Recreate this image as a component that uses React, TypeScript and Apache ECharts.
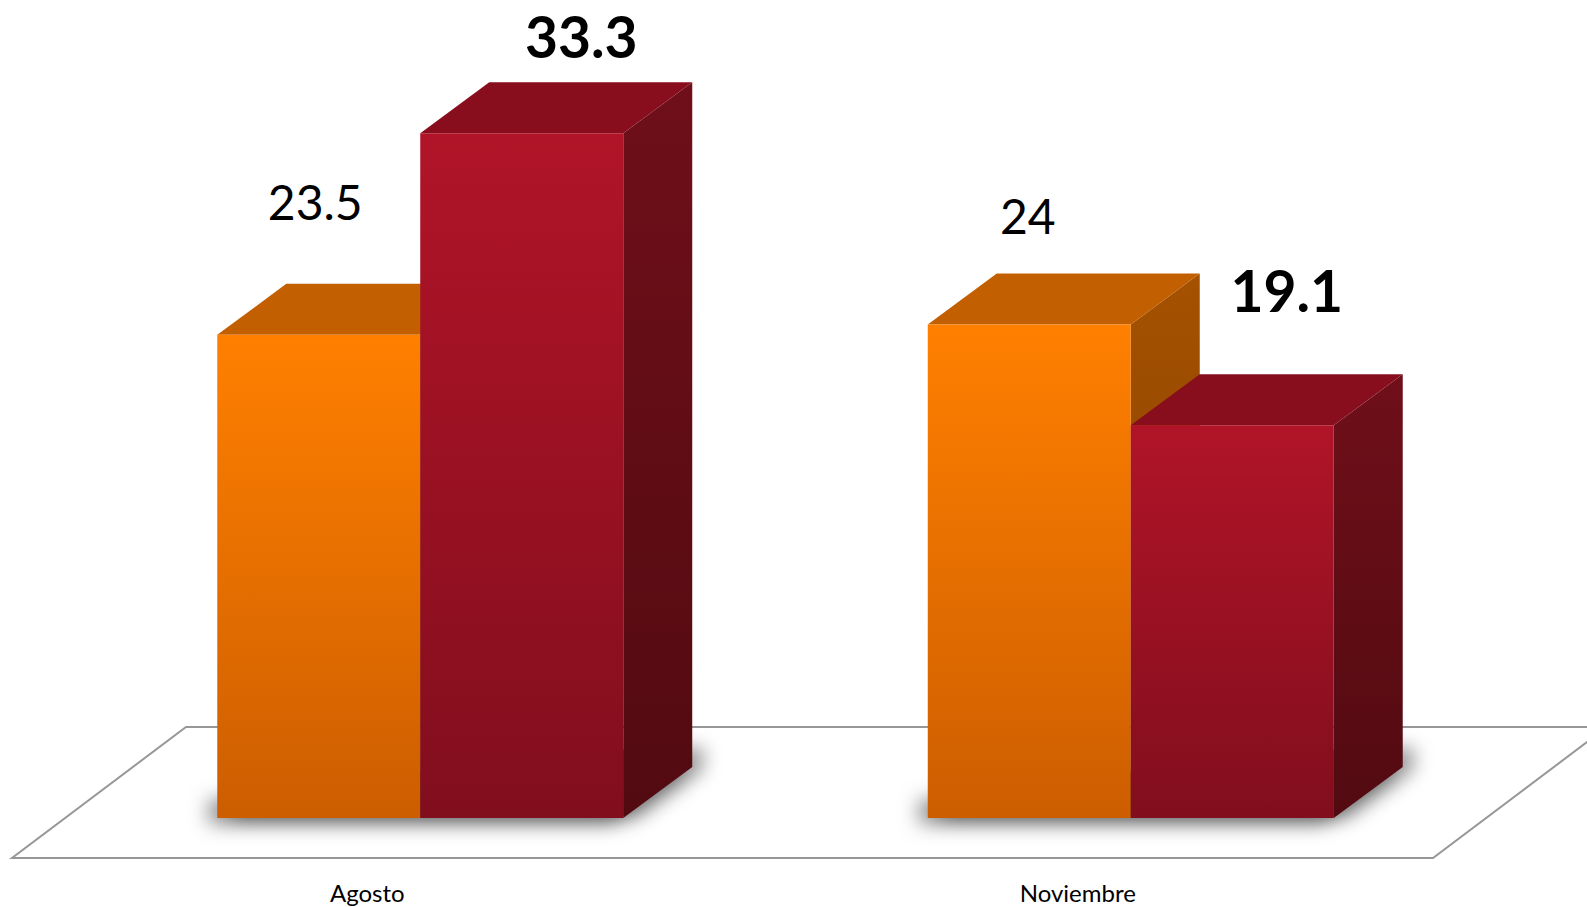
import React, { useEffect, useRef } from "react";
import * as echarts from "echarts";

const categories = ["Agosto", "Noviembre"];
const seriesOrange = [23.5, 24];
const seriesRed = [33.3, 19.1];

// per-label nudges (px) relative to the top-front centre of each bar
const labelNudgeOrange = [
  [-3.5, -133],
  [-1.5, -109],
];
const labelNudgeRed = [
  [59.5, -97],
  [54.5, -135],
];

const FONT = "Lato, 'Open Sans', 'Noto Sans', sans-serif";
const SHIFT_X = 53; // bars sit behind the floor's front edge
const SHIFT_Y = -40;
const DEPTH_X = 69; // bar depth projection
const DEPTH_Y = -51;
const FLOOR_DX = 174;
const FLOOR_DY = -131;

function grad(top: string, bottom: string) {
  return new echarts.graphic.LinearGradient(0, 0, 0, 1, [
    { offset: 0, color: top },
    { offset: 1, color: bottom },
  ]);
}

function barRenderer(
  which: "orange" | "red",
  nudges: number[][],
  colors: { front: [string, string]; top: string; side: [string, string] },
  label: { size: number; weight: string }
) {
  return (params: any, api: any) => {
    const cat = api.value(0);
    const v = api.value(1);
    const p0 = api.coord([cat, 0]);
    const p1 = api.coord([cat, v]);
    const band = api.size([1, 0])[0];
    const bw = band * 0.2857;
    const cx = p0[0] + SHIFT_X;
    const x0 = which === "orange" ? cx - bw : cx;
    const x1 = which === "orange" ? cx : cx + bw;
    const yb = p0[1] + SHIFT_Y;
    const yt = p1[1] + SHIFT_Y;
    const nd = nudges[params.dataIndex] || [0, 0];
    return {
      type: "group",
      children: [
        {
          type: "polygon",
          shape: {
            points: [
              [x1, yt],
              [x1 + DEPTH_X, yt + DEPTH_Y],
              [x1 + DEPTH_X, yb + DEPTH_Y],
              [x1, yb],
            ],
          },
          style: { fill: grad(colors.side[0], colors.side[1]) },
        },
        {
          type: "polygon",
          shape: {
            points: [
              [x0, yt],
              [x1, yt],
              [x1 + DEPTH_X, yt + DEPTH_Y],
              [x0 + DEPTH_X, yt + DEPTH_Y],
            ],
          },
          style: { fill: colors.top },
        },
        {
          type: "rect",
          shape: { x: x0, y: yt, width: x1 - x0, height: yb - yt },
          style: { fill: grad(colors.front[0], colors.front[1]) },
        },
        {
          type: "text",
          z2: 10,
          x: (x0 + x1) / 2 + nd[0],
          y: yt + nd[1],
          style: {
            text: String(v),
            fill: "#000",
            fontFamily: FONT,
            fontSize: label.size,
            fontWeight: label.weight,
            align: "center",
            verticalAlign: "middle",
          },
        },
      ],
    };
  };
}

export default function App() {
  const ref = useRef<HTMLDivElement>(null);
  useEffect(() => {
    if (!ref.current) return;
    const chart = echarts.init(ref.current, undefined, { renderer: "svg" });
    const option: any = {
      animation: false,
      backgroundColor: "#ffffff",
      grid: { left: 12, right: 154, top: 35.6, bottom: 49 },
      xAxis: {
        type: "category",
        data: categories,
        axisLine: { show: false },
        axisTick: { show: false },
        splitLine: { show: false },
        axisLabel: {
          color: "#000",
          fontFamily: FONT,
          fontSize: 24,
          margin: 22,
        },
      },
      yAxis: {
        type: "value",
        min: 0,
        max: 40,
        show: false,
        splitLine: { show: false },
      },
      series: [
        {
          type: "custom",
          name: "floor",
          z: 1,
          silent: true,
          data: [[0, 0]],
          renderItem: (params: any, api: any) => {
            const cs = params.coordSys;
            const fy = cs.y + cs.height;
            const lx = cs.x;
            const rx = cs.x + cs.width;
            return {
              type: "polygon",
              shape: {
                points: [
                  [lx, fy],
                  [rx, fy],
                  [rx + FLOOR_DX, fy + FLOOR_DY],
                  [lx + FLOOR_DX, fy + FLOOR_DY],
                ],
              },
              style: { fill: "#ffffff", stroke: "#979797", lineWidth: 2 },
            };
          },
        },
        {
          type: "custom",
          name: "shadow",
          z: 2,
          silent: true,
          data: categories.map((_, i) => [i, 0]),
          renderItem: (params: any, api: any) => {
            const p0 = api.coord([api.value(0), 0]);
            const band = api.size([1, 0])[0];
            const bw = band * 0.2857;
            const cx = p0[0] + SHIFT_X;
            const yb = p0[1] + SHIFT_Y;
            const xl = cx - bw + 2;
            const xr = cx + bw + DEPTH_X - 2;
            const pts = [
              [xl, yb - 2],
              [cx + bw, yb - 2],
              [xr, yb + DEPTH_Y],
              [xr, yb + DEPTH_Y - 24],
              [xl, yb - 24],
            ];
            return {
              type: "group",
              children: [
                {
                  type: "polygon",
                  shape: { points: pts },
                  style: {
                    fill: "rgba(90,90,90,1)",
                    shadowBlur: 20,
                    shadowColor: "rgba(0,0,0,0.5)",
                    shadowOffsetX: -10,
                    shadowOffsetY: 7,
                  },
                },
                {
                  type: "polygon",
                  shape: { points: pts },
                  style: {
                    fill: "rgba(90,90,90,1)",
                    shadowBlur: 18,
                    shadowColor: "rgba(0,0,0,0.35)",
                    shadowOffsetX: 14,
                    shadowOffsetY: 3,
                  },
                },
              ],
            };
          },
        },
        {
          type: "custom",
          name: "Serie 1",
          z: 3,
          data: seriesOrange.map((v, i) => [i, v]),
          encode: { x: 0, y: 1 },
          renderItem: barRenderer(
            "orange",
            labelNudgeOrange,
            {
              front: ["#FF8000", "#CC5D00"],
              top: "#C25F00",
              side: ["#A55100", "#803E00"],
            },
            { size: 48, weight: "normal" }
          ),
        },
        {
          type: "custom",
          name: "Serie 2",
          z: 4,
          data: seriesRed.map((v, i) => [i, v]),
          encode: { x: 0, y: 1 },
          renderItem: barRenderer(
            "red",
            labelNudgeRed,
            {
              front: ["#B11428", "#810E1D"],
              top: "#880E1E",
              side: ["#6F0F19", "#520A11"],
            },
            { size: 57, weight: "bold" }
          ),
        },
      ],
    };
    chart.setOption(option);
    return () => chart.dispose();
  }, []);
  return (
    <div
      ref={ref}
      style={{ position: "absolute", left: 0, top: 0, width: 1587, height: 907 }}
    />
  );
}
